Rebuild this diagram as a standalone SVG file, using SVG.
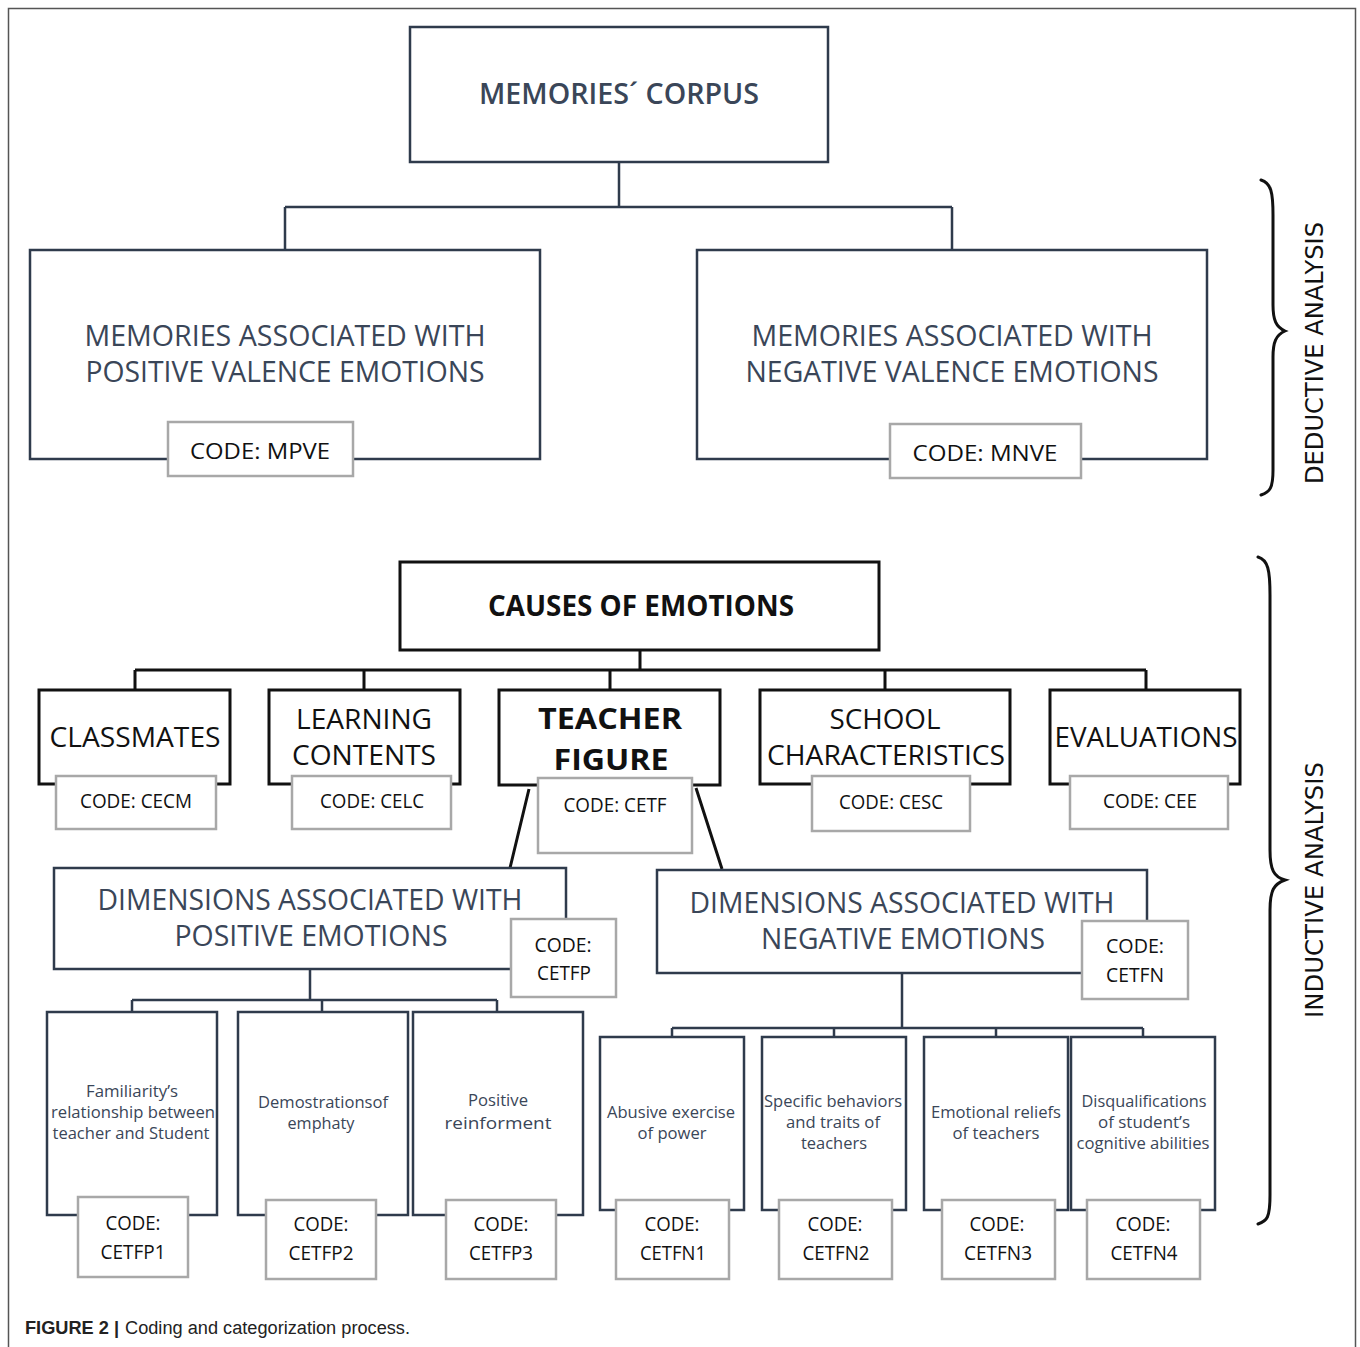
<svg xmlns="http://www.w3.org/2000/svg" width="1360" height="1347" viewBox="0 0 1360 1347">
<style>
.frame{fill:none;stroke:#555;stroke-width:1.5}
.sl{fill:#fff;stroke:#2f3b4c;stroke-width:2.5}
.bk{fill:#fff;stroke:#111;stroke-width:3}
.cd{fill:#fff;stroke:#a8a8a8;stroke-width:2.5}
.ln{fill:none;stroke:#2f3b4c;stroke-width:2.5}
.lk{fill:none;stroke:#111;stroke-width:3}
.br{fill:none;stroke:#111;stroke-width:3;stroke-linecap:round}
text{font-family:"Open Sans","Liberation Sans",sans-serif;text-anchor:middle}
.ts{fill:#3a4658;font-size:29px}
.tsb{fill:#3a4658;font-size:28px;font-weight:600}
.tk{fill:#111;font-size:28px}
.tkb{fill:#111;font-size:28px;font-weight:700}
.tc{fill:#111;font-size:20px}
.tcl{fill:#111;font-size:22px}
.tsm{fill:#3a4658;font-size:17px}
.side{font-family:"DejaVu Sans",sans-serif;fill:#111;font-size:24px}
.cap{font-family:"Liberation Sans",Arial,sans-serif;fill:#222;font-size:18px;text-anchor:start}
</style>
<rect x="0" y="0" width="1360" height="1347" fill="#fff"/>
<path class="frame" d="M8.5,1350 V8.5 H1355.5 V1350"/>

<g id="connectors">
<path class="ln" d="M619,162 V207 M285,207 H952 M285,207 V250 M952,207 V250"/>
<path class="lk" d="M640,650 V670 M135,670 H1146 M135,670 V690 M364,670 V690 M610,670 V690 M885,670 V690 M1146,670 V690"/>
<path class="lk" stroke-width="2" d="M529,789 L510,868 M696,788 L722,869"/>
<path class="ln" d="M310,969 V1000 M132,1000 H497 M132,1000 V1012 M322,1000 V1012 M497,1000 V1012"/>
<path class="ln" d="M902,973 V1028 M672,1028 H1143 M672,1028 V1037 M834,1028 V1037 M996,1028 V1037 M1143,1028 V1037"/>
</g>

<g id="corpus">
<rect class="sl" x="410" y="27" width="418" height="135"/>
<text class="tsb" x="619" y="104" textLength="280" lengthAdjust="spacingAndGlyphs">MEMORIES´ CORPUS</text>
</g>

<g id="mpve">
<rect class="sl" x="30" y="250" width="510" height="209"/>
<text class="ts" x="285" y="346" textLength="401" lengthAdjust="spacingAndGlyphs">MEMORIES ASSOCIATED WITH</text>
<text class="ts" x="285" y="382" textLength="399" lengthAdjust="spacingAndGlyphs">POSITIVE VALENCE EMOTIONS</text>
<rect class="cd" x="168" y="422" width="185" height="54"/>
<text class="tcl" x="260" y="459" textLength="140" lengthAdjust="spacingAndGlyphs">CODE: MPVE</text>
</g>

<g id="mnve">
<rect class="sl" x="697" y="250" width="510" height="209"/>
<text class="ts" x="952" y="346" textLength="401" lengthAdjust="spacingAndGlyphs">MEMORIES ASSOCIATED WITH</text>
<text class="ts" x="952" y="382" textLength="413" lengthAdjust="spacingAndGlyphs">NEGATIVE VALENCE EMOTIONS</text>
<rect class="cd" x="890" y="424" width="191" height="54"/>
<text class="tcl" x="985" y="461" textLength="145" lengthAdjust="spacingAndGlyphs">CODE: MNVE</text>
</g>

<g id="deductive">
<path class="br" d="M1261,180 C1271,183 1273,192 1273,215 L1273,305 C1273,320 1276,327 1285,331 C1276,335 1273,342 1273,357 L1273,470 C1273,488 1270,492 1261,495"/>
<text class="side" transform="translate(1314,353) rotate(-90)" y="9" textLength="262" lengthAdjust="spacingAndGlyphs">DEDUCTIVE ANALYSIS</text>
</g>

<g id="causes">
<rect class="bk" x="400" y="562" width="479" height="88"/>
<text class="tkb" x="641" y="616" textLength="306" lengthAdjust="spacingAndGlyphs">CAUSES OF EMOTIONS</text>
</g>

<g id="classmates">
<rect class="bk" x="39" y="690" width="191" height="94"/>
<text class="tk" x="135" y="747" textLength="171" lengthAdjust="spacingAndGlyphs">CLASSMATES</text>
<rect class="cd" x="56" y="776" width="160" height="53"/>
<text class="tc" x="136" y="808" textLength="112" lengthAdjust="spacingAndGlyphs">CODE: CECM</text>
</g>

<g id="learning">
<rect class="bk" x="269" y="690" width="191" height="94"/>
<text class="tk" x="364" y="729" textLength="136" lengthAdjust="spacingAndGlyphs">LEARNING</text>
<text class="tk" x="364" y="765" textLength="144" lengthAdjust="spacingAndGlyphs">CONTENTS</text>
<rect class="cd" x="292" y="776" width="159" height="53"/>
<text class="tc" x="372" y="808" textLength="104" lengthAdjust="spacingAndGlyphs">CODE: CELC</text>
</g>

<g id="teacher">
<rect class="bk" x="499" y="690" width="221" height="95"/>
<text class="tkb" x="610" y="729" font-size="33" textLength="144" lengthAdjust="spacingAndGlyphs">TEACHER</text>
<text class="tkb" x="611" y="770" font-size="33" textLength="115" lengthAdjust="spacingAndGlyphs">FIGURE</text>
<rect class="cd" x="538" y="778" width="154" height="75"/>
<text class="tc" x="615" y="812" textLength="103" lengthAdjust="spacingAndGlyphs">CODE: CETF</text>
</g>

<g id="school">
<rect class="bk" x="760" y="690" width="250" height="94"/>
<text class="tk" x="885" y="729" textLength="111" lengthAdjust="spacingAndGlyphs">SCHOOL</text>
<text class="tk" x="886" y="765" textLength="238" lengthAdjust="spacingAndGlyphs">CHARACTERISTICS</text>
<rect class="cd" x="812" y="776" width="158" height="55"/>
<text class="tc" x="891" y="809" textLength="104" lengthAdjust="spacingAndGlyphs">CODE: CESC</text>
</g>

<g id="evaluations">
<rect class="bk" x="1050" y="690" width="190" height="94"/>
<text class="tk" x="1146" y="747" textLength="183" lengthAdjust="spacingAndGlyphs">EVALUATIONS</text>
<rect class="cd" x="1070" y="776" width="158" height="53"/>
<text class="tc" x="1150" y="808" textLength="94" lengthAdjust="spacingAndGlyphs">CODE: CEE</text>
</g>

<g id="dimpos">
<rect class="sl" x="54" y="868" width="512" height="101"/>
<text class="ts" x="310" y="910" textLength="425" lengthAdjust="spacingAndGlyphs">DIMENSIONS ASSOCIATED WITH</text>
<text class="ts" x="311" y="946" textLength="273" lengthAdjust="spacingAndGlyphs">POSITIVE EMOTIONS</text>
<rect class="cd" x="511" y="919" width="105" height="78"/>
<text class="tc" x="563" y="952" textLength="57" lengthAdjust="spacingAndGlyphs">CODE:</text>
<text class="tc" x="564" y="980" textLength="54" lengthAdjust="spacingAndGlyphs">CETFP</text>
</g>

<g id="dimneg">
<rect class="sl" x="657" y="870" width="490" height="103"/>
<text class="ts" x="902" y="913" textLength="425" lengthAdjust="spacingAndGlyphs">DIMENSIONS ASSOCIATED WITH</text>
<text class="ts" x="903" y="949" textLength="284" lengthAdjust="spacingAndGlyphs">NEGATIVE EMOTIONS</text>
<rect class="cd" x="1082" y="921" width="106" height="78"/>
<text class="tc" x="1135" y="953" textLength="58" lengthAdjust="spacingAndGlyphs">CODE:</text>
<text class="tc" x="1135" y="982" textLength="58" lengthAdjust="spacingAndGlyphs">CETFN</text>
</g>

<g id="p1">
<rect class="sl" x="47" y="1012" width="170" height="203"/>
<text class="tsm" x="132" y="1097" textLength="92" lengthAdjust="spacingAndGlyphs">Familiarity’s</text>
<text class="tsm" x="133" y="1118" textLength="164" lengthAdjust="spacingAndGlyphs">relationship between</text>
<text class="tsm" x="131" y="1139" textLength="157" lengthAdjust="spacingAndGlyphs">teacher and Student</text>
<rect class="cd" x="78" y="1197" width="110" height="80"/>
<text class="tc" x="133" y="1230" textLength="55" lengthAdjust="spacingAndGlyphs">CODE:</text>
<text class="tc" x="133" y="1259" textLength="65" lengthAdjust="spacingAndGlyphs">CETFP1</text>
</g>

<g id="p2">
<rect class="sl" x="238" y="1012" width="170" height="203"/>
<text class="tsm" x="323" y="1108" textLength="130" lengthAdjust="spacingAndGlyphs">Demostrationsof</text>
<text class="tsm" x="321" y="1129" textLength="67" lengthAdjust="spacingAndGlyphs">emphaty</text>
<rect class="cd" x="266" y="1200" width="110" height="79"/>
<text class="tc" x="321" y="1231" textLength="55" lengthAdjust="spacingAndGlyphs">CODE:</text>
<text class="tc" x="321" y="1260" textLength="65" lengthAdjust="spacingAndGlyphs">CETFP2</text>
</g>

<g id="p3">
<rect class="sl" x="413" y="1012" width="170" height="203"/>
<text class="tsm" x="498" y="1106" textLength="60" lengthAdjust="spacingAndGlyphs">Positive</text>
<text class="tsm" x="498" y="1129" font-size="19" textLength="107" lengthAdjust="spacingAndGlyphs">reinforment</text>
<rect class="cd" x="446" y="1200" width="110" height="79"/>
<text class="tc" x="501" y="1231" textLength="55" lengthAdjust="spacingAndGlyphs">CODE:</text>
<text class="tc" x="501" y="1260" textLength="64" lengthAdjust="spacingAndGlyphs">CETFP3</text>
</g>

<g id="n1">
<rect class="sl" x="600" y="1037" width="144" height="173"/>
<text class="tsm" x="671" y="1118" textLength="128" lengthAdjust="spacingAndGlyphs">Abusive exercise</text>
<text class="tsm" x="672" y="1139" textLength="69" lengthAdjust="spacingAndGlyphs">of power</text>
<rect class="cd" x="616" y="1200" width="113" height="79"/>
<text class="tc" x="672" y="1231" textLength="55" lengthAdjust="spacingAndGlyphs">CODE:</text>
<text class="tc" x="673" y="1260" textLength="66" lengthAdjust="spacingAndGlyphs">CETFN1</text>
</g>

<g id="n2">
<rect class="sl" x="762" y="1037" width="144" height="173"/>
<text class="tsm" x="833" y="1107" textLength="138" lengthAdjust="spacingAndGlyphs">Specific behaviors</text>
<text class="tsm" x="833" y="1128" textLength="94" lengthAdjust="spacingAndGlyphs">and traits of</text>
<text class="tsm" x="834" y="1149" textLength="66" lengthAdjust="spacingAndGlyphs">teachers</text>
<rect class="cd" x="779" y="1200" width="113" height="79"/>
<text class="tc" x="835" y="1231" textLength="55" lengthAdjust="spacingAndGlyphs">CODE:</text>
<text class="tc" x="836" y="1260" textLength="67" lengthAdjust="spacingAndGlyphs">CETFN2</text>
</g>

<g id="n3">
<rect class="sl" x="924" y="1037" width="144" height="173"/>
<text class="tsm" x="996" y="1118" textLength="130" lengthAdjust="spacingAndGlyphs">Emotional reliefs</text>
<text class="tsm" x="996" y="1139" textLength="87" lengthAdjust="spacingAndGlyphs">of teachers</text>
<rect class="cd" x="942" y="1200" width="113" height="79"/>
<text class="tc" x="997" y="1231" textLength="55" lengthAdjust="spacingAndGlyphs">CODE:</text>
<text class="tc" x="998" y="1260" textLength="68" lengthAdjust="spacingAndGlyphs">CETFN3</text>
</g>

<g id="n4">
<rect class="sl" x="1071" y="1037" width="144" height="173"/>
<text class="tsm" x="1144" y="1107" textLength="125" lengthAdjust="spacingAndGlyphs">Disqualifications</text>
<text class="tsm" x="1144" y="1128" textLength="92" lengthAdjust="spacingAndGlyphs">of student’s</text>
<text class="tsm" x="1143" y="1149" textLength="133" lengthAdjust="spacingAndGlyphs">cognitive abilities</text>
<rect class="cd" x="1087" y="1200" width="113" height="79"/>
<text class="tc" x="1143" y="1231" textLength="55" lengthAdjust="spacingAndGlyphs">CODE:</text>
<text class="tc" x="1144" y="1260" textLength="67" lengthAdjust="spacingAndGlyphs">CETFN4</text>
</g>

<g id="inductive">
<path class="br" d="M1258,557 C1268,560 1270,570 1270,595 L1270,850 C1270,870 1274,877 1285,880 C1274,884 1270,890 1270,910 L1270,1195 C1270,1218 1267,1221 1258,1224"/>
<text class="side" transform="translate(1314,890) rotate(-90)" y="9" textLength="256" lengthAdjust="spacingAndGlyphs">INDUCTIVE ANALYSIS</text>
</g>

<g id="caption">
<text class="cap" x="25" y="1334"><tspan font-weight="700" textLength="94" lengthAdjust="spacingAndGlyphs">FIGURE 2 |</tspan><tspan x="125" textLength="285" lengthAdjust="spacingAndGlyphs">Coding and categorization process.</tspan></text>
</g>
</svg>
